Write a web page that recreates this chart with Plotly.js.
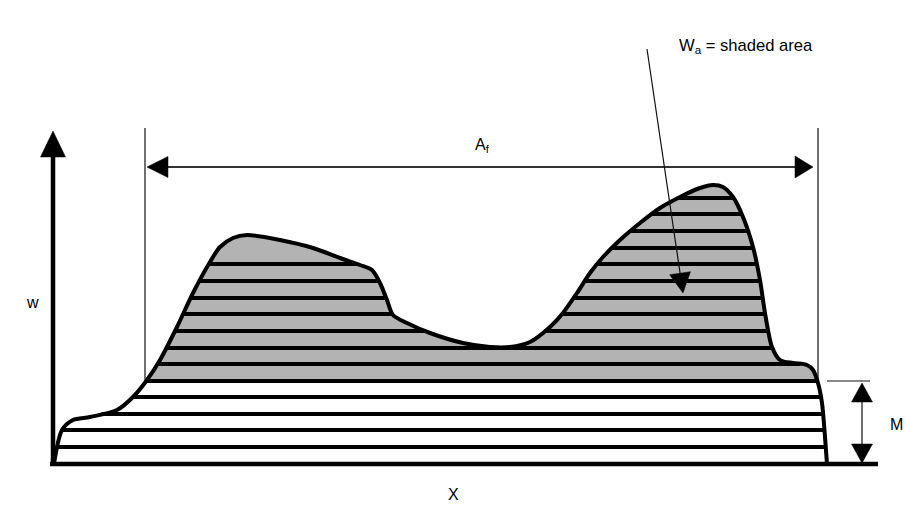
<!DOCTYPE html>
<html><head><meta charset="utf-8">
<script src="https://cdn.plot.ly/plotly-3.0.1.min.js"></script>
<style>html,body{margin:0;padding:0;background:#fff}#chart{width:905px;height:505px}</style>
</head><body><div id="chart"></div>
<script>
// Cross-section outline: X position and height w above the base line
const curveX = [54, 62, 73, 90, 117, 133, 147, 160, 177, 193, 210, 220, 233, 247, 280, 313, 340, 360, 372, 380, 387, 393, 407, 430, 463, 490, 510, 530, 550, 563, 577, 590, 603, 620, 640, 660, 680, 700, 713, 723, 733, 743, 753, 760, 765, 772, 780, 793, 807, 813, 818, 822, 825, 827];
const curveW = [0, 34, 44, 47, 54, 67, 84, 104, 137, 171, 202, 217, 226, 229, 224, 216, 206, 199, 194, 181, 164, 149, 141, 131, 121, 117, 117, 122, 137, 151, 171, 191, 207, 224, 241, 256, 267, 276, 279, 277, 267, 247, 217, 184, 151, 117, 104, 101, 99, 94, 81, 61, 27, 0];

// Horizontal hatch levels (w) and the X from which each is drawn
const hatchLevels = [17, 34, 50, 67, 83, 100, 116, 133, 150, 166, 183, 200, 216, 233, 250, 266];
const hatchFromX  = [0, 0, 0, 0, 0, 0, 0, 0, 0, 0, 0, 0, 500, 0, 0, 0];

// Dimension values
const afSpan = [145, 818];     // A_f extent along X
const afLevel = 297;           // height of A_f arrow
const dimTop = 336;            // top of A_f extension lines
const mLevel = 83;             // M level (w)
const mDimX = 862;             // X of the M dimension arrow
const baseSpan = [50, 878];    // X axis line extent
const axisX = 53;              // w axis position
const axisTop = 333;           // w axis arrow tip
const pointerFrom = [647, 415];
const pointerTo = [683, 171];

const GREY = 'rgb(179,179,179)';
const INK = '#000';

function crossings(level) {
  const xs = [];
  for (let i = 1; i < curveX.length; i++) {
    const a = curveW[i-1] - level, b = curveW[i] - level;
    if ((a < 0 && b >= 0) || (a >= 0 && b < 0)) {
      const t = a / (a - b);
      xs.push(curveX[i-1] + t * (curveX[i] - curveX[i-1]));
    }
  }
  return xs;
}
function curveAt(x) {
  for (let i = 1; i < curveX.length; i++) {
    if (x >= curveX[i-1] && x <= curveX[i]) {
      const t = (x - curveX[i-1]) / (curveX[i] - curveX[i-1]);
      return curveW[i-1] + t * (curveW[i] - curveW[i-1]);
    }
  }
  return 0;
}
function clipBelow(M) {
  const x = [], y = [];
  for (let i = 0; i < curveX.length; i++) {
    if (i > 0) {
      const a = curveW[i-1] - M, b = curveW[i] - M;
      if (a * b < 0) {
        const t = a / (a - b);
        x.push(curveX[i-1] + t * (curveX[i] - curveX[i-1])); y.push(M);
      }
    }
    x.push(curveX[i]); y.push(Math.min(curveW[i], M));
  }
  return {x, y};
}
function tri(tip, dir, len, half) {
  const L = Math.hypot(dir[0], dir[1]);
  const ux = dir[0] / L, uy = dir[1] / L;
  const bx = tip[0] - ux * len, by = tip[1] - uy * len;
  const px = -uy, py = ux;
  return {x: [tip[0], bx + px * half, bx - px * half, tip[0]],
          y: [tip[1], by + py * half, by - py * half, tip[1]]};
}
function triTrace(t) {
  return {x: t.x, y: t.y, mode: 'lines', fill: 'toself', fillcolor: INK,
          line: {width: 0.5, color: INK}, hoverinfo: 'skip', showlegend: false};
}
function lineTrace(x, y, w, c) {
  return {x, y, mode: 'lines', line: {width: w, color: c || INK}, hoverinfo: 'skip', showlegend: false};
}

const traces = [];
// grey area
traces.push({x: curveX, y: curveW, mode: 'lines', fill: 'toself', fillcolor: GREY,
             line: {width: 0}, hoverinfo: 'skip', showlegend: false});
// white part below M
const cb = clipBelow(mLevel);
traces.push({x: cb.x, y: cb.y, mode: 'lines', fill: 'toself', fillcolor: '#fff',
             line: {width: 0}, hoverinfo: 'skip', showlegend: false});
// hatch lines
const hx = [], hy = [];
hatchLevels.forEach((lv, k) => {
  const c = crossings(lv);
  for (let j = 0; j + 1 < c.length; j += 2) {
    if (c[j] < hatchFromX[k]) continue;
    hx.push(c[j], c[j+1], null); hy.push(lv, lv, null);
  }
});
traces.push(lineTrace(hx, hy, 4));
// outline
traces.push({x: curveX, y: curveW, mode: 'lines', line: {width: 4, color: INK, shape: 'spline', smoothing: 0.8},
             hoverinfo: 'skip', showlegend: false});
// base line and w axis
traces.push(lineTrace(baseSpan, [0, 0], 4.5));
traces.push(lineTrace([axisX, axisX], [0, axisTop - 24], 4.5));
traces.push(triTrace(tri([axisX, axisTop], [0, 1], 26, 12.5)));
// A_f extension lines and arrow
traces.push(lineTrace([afSpan[0], afSpan[0]], [dimTop, curveAt(afSpan[0]) + 2], 1.2, '#111'));
traces.push(lineTrace([afSpan[1], afSpan[1]], [dimTop, curveAt(afSpan[1]) + 4], 1.2, '#111'));
traces.push(lineTrace([afSpan[0] + 15, afSpan[1] - 15], [afLevel, afLevel], 1.8, '#333'));
traces.push(triTrace(tri([afSpan[0] + 2, afLevel], [-1, 0], 21, 10.5)));
traces.push(triTrace(tri([afSpan[1] - 5, afLevel], [1, 0], 18, 11)));
// M dimension
traces.push(lineTrace([curveX[curveX.length-1], 870], [mLevel, mLevel], 1.2, '#111'));
traces.push(lineTrace([mDimX, mDimX], [mLevel - 10, 10], 1.2, '#111'));
traces.push(triTrace(tri([mDimX, mLevel - 2], [0, 1], 19, 10.5)));
traces.push(triTrace(tri([mDimX, 1], [0, -1], 19, 10.5)));
// pointer to shaded area
const pd = [pointerTo[0] - pointerFrom[0], pointerTo[1] - pointerFrom[1]];
const pl = Math.hypot(pd[0], pd[1]);
traces.push(lineTrace([pointerFrom[0], pointerTo[0] - pd[0] / pl * 15], [pointerFrom[1], pointerTo[1] - pd[1] / pl * 15], 1.2, '#111'));
traces.push(triTrace(tri(pointerTo, pd, 20, 10.5)));

const FONT = {family: 'Liberation Sans, Arial, sans-serif', size: 16, color: '#000'};
function label(text, x, y, xanchor, size) {
  return {text, x, y, xref: 'x', yref: 'y', showarrow: false, xanchor: xanchor || 'center', yanchor: 'middle',
          font: Object.assign({}, FONT, size ? {size} : {})};
}
const layout = {
  width: 905, height: 505,
  margin: {l: 0, r: 0, t: 0, b: 0},
  paper_bgcolor: '#fff', plot_bgcolor: '#fff',
  showlegend: false,
  xaxis: {range: [0, 905], visible: false, fixedrange: true},
  yaxis: {range: [-41, 464], visible: false, fixedrange: true},
  annotations: [
    label('W<sub>a</sub> = shaded area', 677, 418, 'left', 16.6),
    label('A<sub>f</sub>', 473, 319, 'left'),
    label('w', 32, 162),
    label('X', 453, -30),
    label('M', 896, 40),
  ]
};
Plotly.newPlot('chart', traces, layout, {staticPlot: true, displayModeBar: false});
</script>
</body></html>
